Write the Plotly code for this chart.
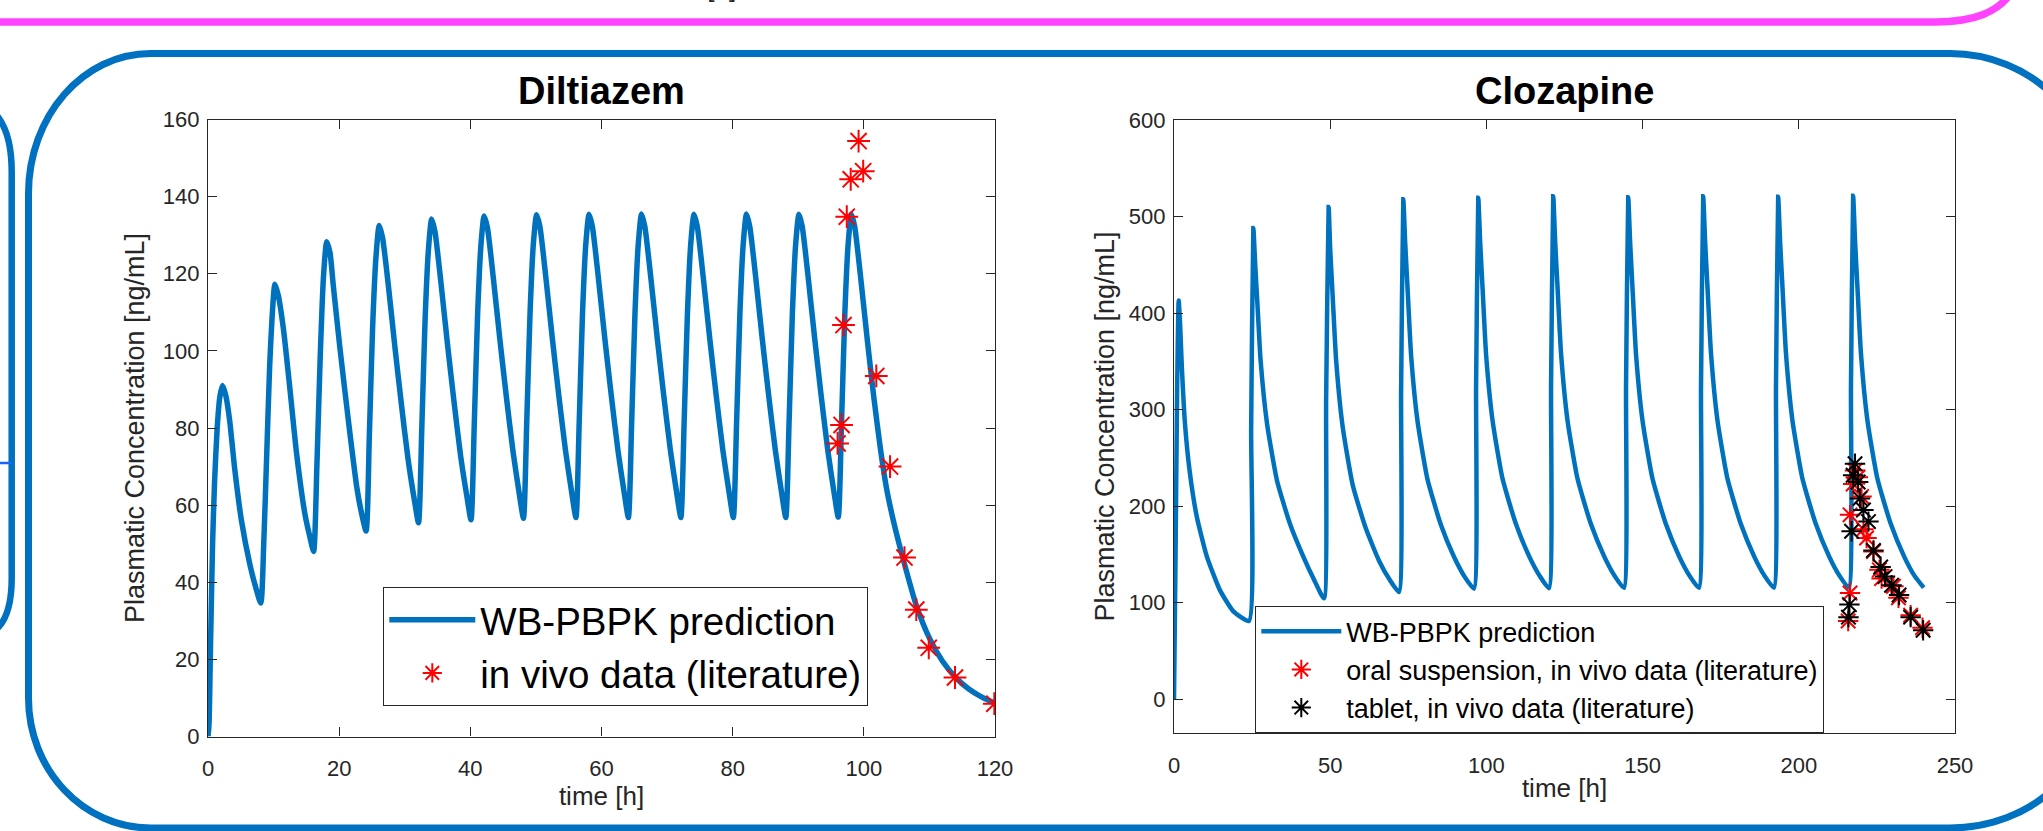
import plotly.graph_objects as go

W, H = 2043, 831

# ---------------- Diltiazem: model curve ----------------
dil_time = [
    0.0, 0.15, 0.4, 0.7, 1.0, 1.4, 1.8, 2.2, 2.7, 3.3, 4.1, 5.1, 6.4, 7.3, 8.05,
    8.5, 8.95, 9.4, 9.75, 10.2, 10.7, 11.5, 12.5, 13.5, 14.8, 15.5, 16.1,
    16.6, 17.1, 17.6, 18.1, 18.6, 19.1, 20.1, 21.4, 22.7, 23.4, 24.1,
    24.6, 25.1, 25.6, 26.1, 26.6, 27.5, 28.5, 29.5, 30.5, 31.5, 32.1,
    32.6, 33.1, 33.6, 34.1, 34.6, 35.5, 36.5, 37.5, 38.5, 39.5, 40.1,
    40.6, 41.1, 41.6, 42.1, 42.6, 43.5, 44.5, 45.5, 46.5, 47.5, 48.1,
    48.6, 49.1, 49.6, 50.1, 50.6, 51.5, 52.5, 53.5, 54.5, 55.5, 56.1,
    56.6, 57.1, 57.6, 58.1, 58.6, 59.5, 60.5, 61.5, 62.5, 63.5, 64.1,
    64.6, 65.1, 65.6, 66.1, 66.6, 67.5, 68.5, 69.5, 70.5, 71.5, 72.1,
    72.6, 73.1, 73.6, 74.1, 74.6, 75.5, 76.5, 77.5, 78.5, 79.5, 80.1,
    80.6, 81.1, 81.6, 82.1, 82.6, 83.5, 84.5, 85.5, 86.5, 87.5, 88.1,
    88.6, 89.1, 89.6, 90.1, 90.6, 91.5, 92.5, 93.5, 94.5, 95.5, 96.1,
    96.6, 97.1, 97.6, 98.1, 98.6, 99.5, 100.5, 101.5, 102.5, 103.5, 104.5,
    106.0, 108.0, 110.0, 112.0, 114.0, 116.0, 118.0, 120.0]
dil_conc = [
    0, 3, 25, 50, 66, 80, 88, 91, 88.5, 82, 69, 56, 44.5, 38.5, 34.6,
    50, 73, 96, 108, 117.3, 114.5, 105.7, 90, 73.5, 57.5, 52, 48,
    70, 98, 119, 128.3, 125.5, 117, 101, 82, 64.5, 58, 53.3,
    78, 106, 124, 132.5, 129.5, 117, 101, 86, 72, 61, 55.4,
    80, 108, 126, 134.2, 131, 118, 102, 87, 73, 62, 56.2,
    81, 109, 127, 135, 132, 119, 103, 88, 74, 62.5, 56.6,
    81.5, 109.5, 127.5, 135.3, 132.3, 119.3, 103.3, 88.3, 74.3, 62.8, 56.8,
    81.5, 109.5, 127.5, 135.4, 132.3, 119.3, 103.3, 88.3, 74.3, 62.8, 56.8,
    81.5, 109.5, 127.5, 135.5, 132.3, 119.3, 103.3, 88.3, 74.3, 62.8, 56.8,
    81.5, 109.5, 127.5, 135.4, 132.3, 119.3, 103.3, 88.3, 74.3, 62.8, 56.8,
    81.5, 109.5, 127.5, 135.5, 132.3, 119.3, 103.3, 88.3, 74.3, 62.8, 56.8,
    81.5, 109.5, 127.5, 135.4, 132.3, 119.3, 103.3, 88.3, 74.3, 62.8, 56.9,
    81.5, 109.5, 127.5, 135.5, 132.3, 119.3, 103.3, 88.3, 75, 64, 56,
    46, 34, 25.5, 19.5, 15.3, 12.3, 10.2, 8.6]

# Diltiazem: in vivo data
dil_obs_time = [96.0, 96.6, 96.9, 97.4, 98.0, 99.2, 99.9, 101.9, 104.0,
                106.2, 108.0, 109.9, 113.9, 119.9]
dil_obs_conc = [76, 80.8, 106.7, 134.8, 144.5, 154.4, 146.6, 93.5, 70,
                46.4, 32.9, 23, 15.3, 8.5]

# ---------------- Clozapine: model curve ----------------
clz_time = [
    0.0, 0.5, 1.0, 1.5, 2.0, 2.5, 3.5, 5.1, 7.3, 10.5, 14.7, 19.0, 24.0,
    24.7, 25.4, 26.0, 26.7, 27.7, 29.8, 33.0, 37.2, 41.5, 44.8, 48.0,
    48.7, 49.5, 50.0, 50.8, 51.9, 54.0, 57.2, 61.4, 65.7, 69.0, 72.0,
    72.7, 73.4, 74.0, 74.8, 75.9, 78.0, 81.2, 85.4, 89.7, 93.0, 96.0,
    96.7, 97.4, 98.0, 98.8, 99.9, 102.0, 105.2, 109.4, 113.7, 117.0, 120.0,
    120.7, 121.4, 122.0, 122.8, 123.9, 126.0, 129.2, 133.4, 137.7, 141.0, 144.0,
    144.7, 145.4, 146.0, 146.8, 147.9, 150.0, 153.2, 157.4, 161.7, 165.0, 168.0,
    168.7, 169.4, 170.0, 170.8, 171.9, 174.0, 177.2, 181.4, 185.7, 189.0, 192.0,
    192.7, 193.4, 194.0, 194.8, 195.9, 198.0, 201.2, 205.4, 209.7, 213.0, 216.0,
    216.7, 217.4, 218.0, 218.8, 219.9, 222.0, 225.2, 229.4, 233.7, 237.0, 240.0]
clz_conc = [
    0, 150, 320, 413, 385, 345, 286, 234, 189, 148, 113, 91, 81,
    280, 488, 450, 410, 352, 285, 226, 181, 147, 124, 104.5,
    310, 510, 466, 417, 351, 282, 222, 177, 143, 124, 111,
    320, 518, 473, 423, 356, 287, 227, 181, 147, 127, 114.5,
    325, 519.5, 474, 424, 357, 288, 228, 182, 148, 128, 115,
    325, 521, 475, 425, 358, 288, 228, 182, 148, 128, 115.3,
    325, 520, 474, 424, 357, 288, 228, 182, 148, 128, 115.3,
    325, 521, 475, 425, 358, 288, 228, 182, 148, 128, 115.5,
    325, 520.5, 475, 425, 358, 288, 228, 182, 148, 128, 115.5,
    325, 521.5, 475, 425, 358, 288, 228, 182, 148, 128, 115.5]

# Clozapine: in vivo data
oral_time = [215.8, 216.4, 216.4, 217.4, 218.0, 218.9, 220.1, 220.7, 221.7,
             223.9, 225.8, 226.5, 230.3, 231.9, 235.8, 239.6]
oral_conc = [81, 110, 191, 223, 237, 230, 210, 176, 167,
             153, 134, 125, 117, 105, 87, 74]
tablet_time = [215.9, 216.2, 216.9, 217.4, 218.0, 219.0, 219.6, 220.7, 222.3,
               223.9, 226.2, 227.6, 229.7, 232.1, 235.8, 239.8]
tablet_conc = [85, 98, 174, 232, 244, 225, 208, 196, 184,
               154, 137, 127, 118, 108, 85, 71.5]

# tick labels
dil_xticks = [0, 20, 40, 60, 80, 100, 120]
dil_yticks = [0, 20, 40, 60, 80, 100, 120, 140, 160]
clz_xticks = [0, 50, 100, 150, 200, 250]
clz_yticks = [0, 100, 200, 300, 400, 500, 600]

BLUE = "#0072BD"
AX = "#262626"
FONT = "Liberation Sans, Arial, sans-serif"

fig = go.Figure()
fig.add_trace(go.Scatter(x=dil_time, y=dil_conc, mode="lines",
                         line=dict(color=BLUE, width=5.5, shape="spline", smoothing=0.6),
                         name="WB-PBPK prediction", xaxis="x", yaxis="y", legend="legend"))
fig.add_trace(go.Scatter(x=dil_obs_time, y=dil_obs_conc, mode="markers",
                         marker=dict(symbol="asterisk-open", size=19, color="#FF0000",
                                     line=dict(color="#FF0000", width=2)),
                         name="in vivo data (literature)", xaxis="x", yaxis="y", legend="legend"))
fig.add_trace(go.Scatter(x=clz_time, y=clz_conc, mode="lines",
                         line=dict(color=BLUE, width=4.5, shape="spline", smoothing=0.5),
                         name="WB-PBPK prediction", xaxis="x2", yaxis="y2", legend="legend2"))
fig.add_trace(go.Scatter(x=oral_time, y=oral_conc, mode="markers",
                         marker=dict(symbol="asterisk-open", size=17, color="#FF0000",
                                     line=dict(color="#FF0000", width=2)),
                         name="oral suspension, in vivo data (literature)",
                         xaxis="x2", yaxis="y2", legend="legend2"))
fig.add_trace(go.Scatter(x=tablet_time, y=tablet_conc, mode="markers",
                         marker=dict(symbol="asterisk-open", size=17, color="#000000",
                                     line=dict(color="#000000", width=2)),
                         name="tablet, in vivo data (literature)",
                         xaxis="x2", yaxis="y2", legend="legend2"))


def px2paper(x, y):
    return x / W, 1 - y / H


def path(cmds):
    out = []
    for c in cmds:
        if isinstance(c, str):
            out.append(c)
        else:
            px_, py_ = px2paper(*c)
            out.append(f"{px_:.5f},{py_:.5f}")
    return " ".join(out)


axis_common = dict(showline=True, linecolor=AX, linewidth=1.3, mirror="ticks",
                   ticks="inside", ticklen=9, tickwidth=1.3, tickcolor=AX,
                   showgrid=False, zeroline=False, automargin=False,
                   tickfont=dict(family=FONT, size=22, color=AX))

k = 0.5523
L, T, B, R = 28.5, 53.5, 828, 2095
rxl, rxr, ryt, ryb = 122, 145, 140, 130
big = path([
    "M", (L + rxl, T), "L", (R - rxr, T),
    "C", (R - rxr + k * rxr, T), (R, T + ryt - k * ryt), (R, T + ryt),
    "L", (R, B - ryb),
    "C", (R, B - ryb + k * ryb), (R - rxr + k * rxr, B), (R - rxr, B),
    "L", (L + rxl, B),
    "C", (L + rxl - k * rxl, B), (L, B - ryb + k * ryb), (L, B - ryb),
    "L", (L, T + ryt),
    "C", (L, T + ryt - k * ryt), (L + rxl - k * rxl, T), (L + rxl, T), "Z"])

left_shape = path(["M", (-40, 100), "C", (-5, 100), (11.7, 125), (11.7, 172),
                   "L", (11.7, 578),
                   "C", (11.7, 625), (-5, 640), (-40, 640)])
magenta = path(["M", (-10, 22), "L", (1935, 22),
                "C", (1975, 22), (1998, 12), (2012, -8)])
thin = path(["M", (-5, 463), "L", (12, 463)])

shapes = [
    dict(type="path", path=big, xref="paper", yref="paper",
         line=dict(color="#0070C0", width=7), layer="below"),
    dict(type="path", path=left_shape, xref="paper", yref="paper",
         line=dict(color="#0070C0", width=6.5), layer="below"),
    dict(type="path", path=thin, xref="paper", yref="paper",
         line=dict(color="#1565FF", width=2.5), layer="below"),
    dict(type="path", path=magenta, xref="paper", yref="paper",
         line=dict(color="#FF44FF", width=7.3), layer="below"),
]

annotations = [
    dict(text="<b>Diltiazem</b>", x=601.5 / W, y=1 - 91 / H, xref="paper", yref="paper",
         showarrow=False, xanchor="center", yanchor="middle",
         font=dict(family=FONT, size=38, color="#000000")),
    dict(text="<b>Clozapine</b>", x=1564.5 / W, y=1 - 91 / H, xref="paper", yref="paper",
         showarrow=False, xanchor="center", yanchor="middle",
         font=dict(family=FONT, size=38, color="#000000")),
    dict(text="time [h]", x=693 / W, y=1 + 12.5 / H, xref="paper", yref="paper",
         showarrow=False, xanchor="center", yanchor="middle",
         font=dict(family=FONT, size=26, color=AX)),
]

fig.update_layout(
    width=W, height=H, margin=dict(l=0, r=0, t=0, b=0, autoexpand=False),
    paper_bgcolor="white", plot_bgcolor="white",
    font=dict(family=FONT, color=AX),
    xaxis=dict(domain=[208 / W, 995 / W], range=[0, 120], tickvals=dil_xticks,
               anchor="y", ticklabelstandoff=12,
               title=dict(text="time [h]", standoff=2,
                          font=dict(family=FONT, size=26, color=AX)),
               **axis_common),
    yaxis=dict(domain=[1 - 736.5 / H, 1 - 119.5 / H], range=[0, 160], tickvals=dil_yticks,
               anchor="x", ticklabelstandoff=3,
               title=dict(text="Plasmatic Concentration [ng/mL]", standoff=10,
                          font=dict(family=FONT, size=27, color=AX)),
               **axis_common),
    xaxis2=dict(domain=[1174 / W, 1955 / W], range=[0, 250], tickvals=clz_xticks,
                anchor="y2", ticklabelstandoff=12,
                title=dict(text="time [h]", standoff=2,
                           font=dict(family=FONT, size=26, color=AX)),
                **axis_common),
    yaxis2=dict(domain=[1 - 733 / H, 1 - 120 / H], range=[-35, 600], tickvals=clz_yticks,
                anchor="x2", ticklabelstandoff=3,
                title=dict(text="Plasmatic Concentration [ng/mL]", standoff=6,
                           font=dict(family=FONT, size=27, color=AX)),
                **axis_common),
    legend=dict(x=868 / W, y=1 - 706 / H, xanchor="right", yanchor="bottom",
                bgcolor="white", bordercolor=AX, borderwidth=1.3,
                font=dict(family=FONT, size=38.5, color="#000000"),
                itemwidth=86, tracegroupgap=0),
    legend2=dict(x=1255 / W, y=1 - 733 / H, xanchor="left", yanchor="bottom",
                 bgcolor="white", bordercolor=AX, borderwidth=1.3,
                 font=dict(family=FONT, size=27, color="#000000"),
                 itemwidth=80, tracegroupgap=0),
    shapes=shapes,
    annotations=annotations,
    showlegend=True,
)

fig.write_html("out.html", config={"displayModeBar": False},
               post_script="document.body.style.margin='0px';")
